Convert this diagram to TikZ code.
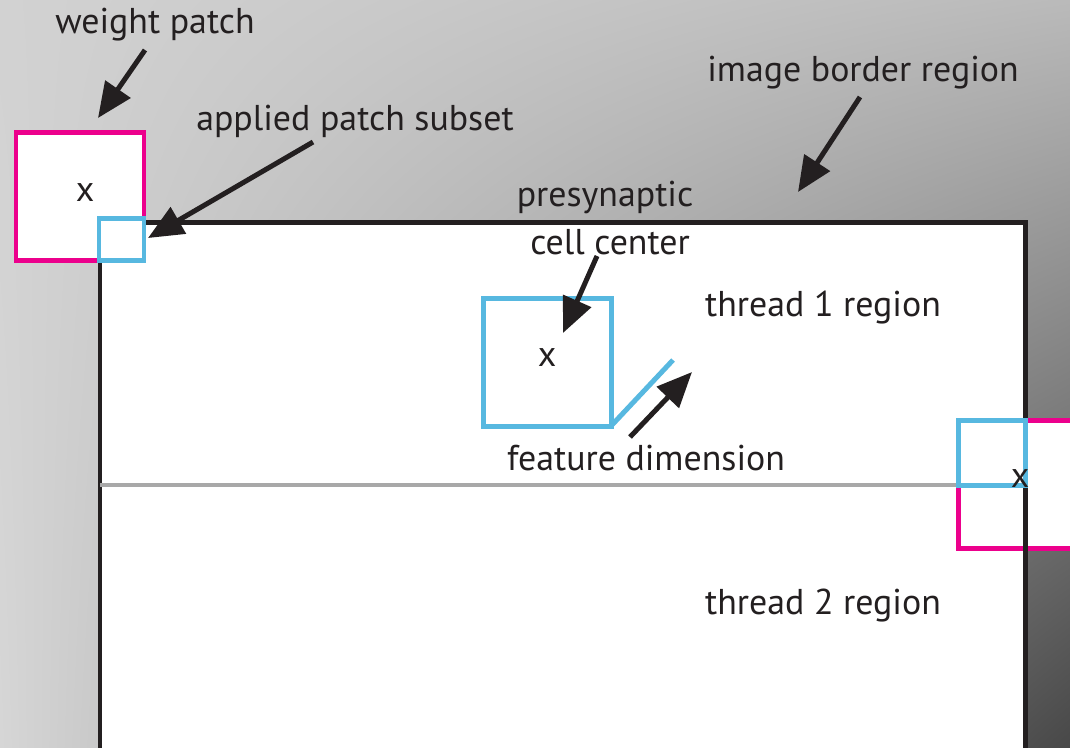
\documentclass[tikz,border=0pt]{standalone}
\usepackage{fontspec}
\setmainfont{PT Sans}
\usetikzlibrary{arrows.meta,shadings}
\definecolor{ink}{HTML}{231F20}
\definecolor{patchmag}{HTML}{EC008C}
\definecolor{patchcyan}{HTML}{57B8E0}
\definecolor{divider}{HTML}{A8A8A8}
\definecolor{bgUL}{HTML}{D2D2D2}
\definecolor{bgUR}{HTML}{BABABA}
\definecolor{bgLL}{HTML}{D6D6D6}
\definecolor{bgLR}{HTML}{484848}
% one drawing unit is 0.01cm
\tikzset{
  lbl/.style={font=\fontsize{10.2}{11}\selectfont, text=ink, inner sep=0pt},
  pointer/.style={draw=ink, line width=1.42pt, -{Triangle[length=10pt,width=8.5pt]}},
  magbox/.style={draw=patchmag, fill=white, line width=1.42pt},
  cyanbox/.style={draw=patchcyan, fill=white, line width=1.42pt},
}
\begin{document}
\begin{tikzpicture}[x=0.01cm, y=-0.01cm]
\useasboundingbox (0,0) rectangle (1070,747);
\clip (0,0) rectangle (1070,747);
% shaded surround
\shade[upper left=bgUL, upper right=bgUR, lower left=bgLL, lower right=bgLR]
  (0,0) rectangle (1070,747);
% image area
\fill[white] (100,222) rectangle (1025,780);
% weight patches
\draw[magbox] (16,132) rectangle (144,260);
\draw[magbox] (958,420) rectangle (1090,548);
% image border
\draw[draw=ink, line width=1.42pt] (100,780) -- (100,222) -- (1025,222) -- (1025,780);
% thread split
\draw[divider, line width=1.14pt] (100,485) -- (958,485);
% applied patch subsets and cell patch
\draw[cyanbox] (99,218) rectangle (144,260);
\draw[cyanbox] (958,420) rectangle (1025,485);
\draw[cyanbox] (483,298) rectangle (611,426);
\coordinate (fd0) at (611,426);
\coordinate (fd1) at (673,360);
\draw[patchcyan, line width=1.42pt] (fd0) -- (fd1);
% centre marks
\node[lbl] (c1) at (85,193) {x};
\node[lbl] (c2) at (547,358) {x};
\node[lbl] (c3) at (1020,479) {x};
% labels
\node[lbl] (wp) at (155,25) {weight patch};
\node[lbl] (aps) at (355,121) {applied patch subset};
\node[lbl] (ibr) at (863,73) {image border region};
\node[lbl] (pre1) at (605,197) {presynaptic};
\node[lbl] (pre2) at (610,242) {cell center};
\node[lbl] (t1) at (823,308) {thread 1 region};
\node[lbl] (t2) at (823,606) {thread 2 region};
\node[lbl] (fd) at (646,458) {feature dimension};
% arrow ends
\coordinate (wpA) at (145,50);   \coordinate (wpB) at (98,118);
\coordinate (apsA) at (313,142); \coordinate (apsB) at (148,238);
\coordinate (ibrA) at (860,97);  \coordinate (ibrB) at (798,192);
\coordinate (preA) at (597,256); \coordinate (preB) at (563,333);
\coordinate (fdA) at (630,437);  \coordinate (fdB) at (692,372);
\draw[pointer] (wpA) -- (wpB);
\draw[pointer] (apsA) -- (apsB);
\draw[pointer] (ibrA) -- (ibrB);
\draw[pointer] (preA) -- (preB);
\draw[pointer] (fdA) -- (fdB);
\end{tikzpicture}
\end{document}
